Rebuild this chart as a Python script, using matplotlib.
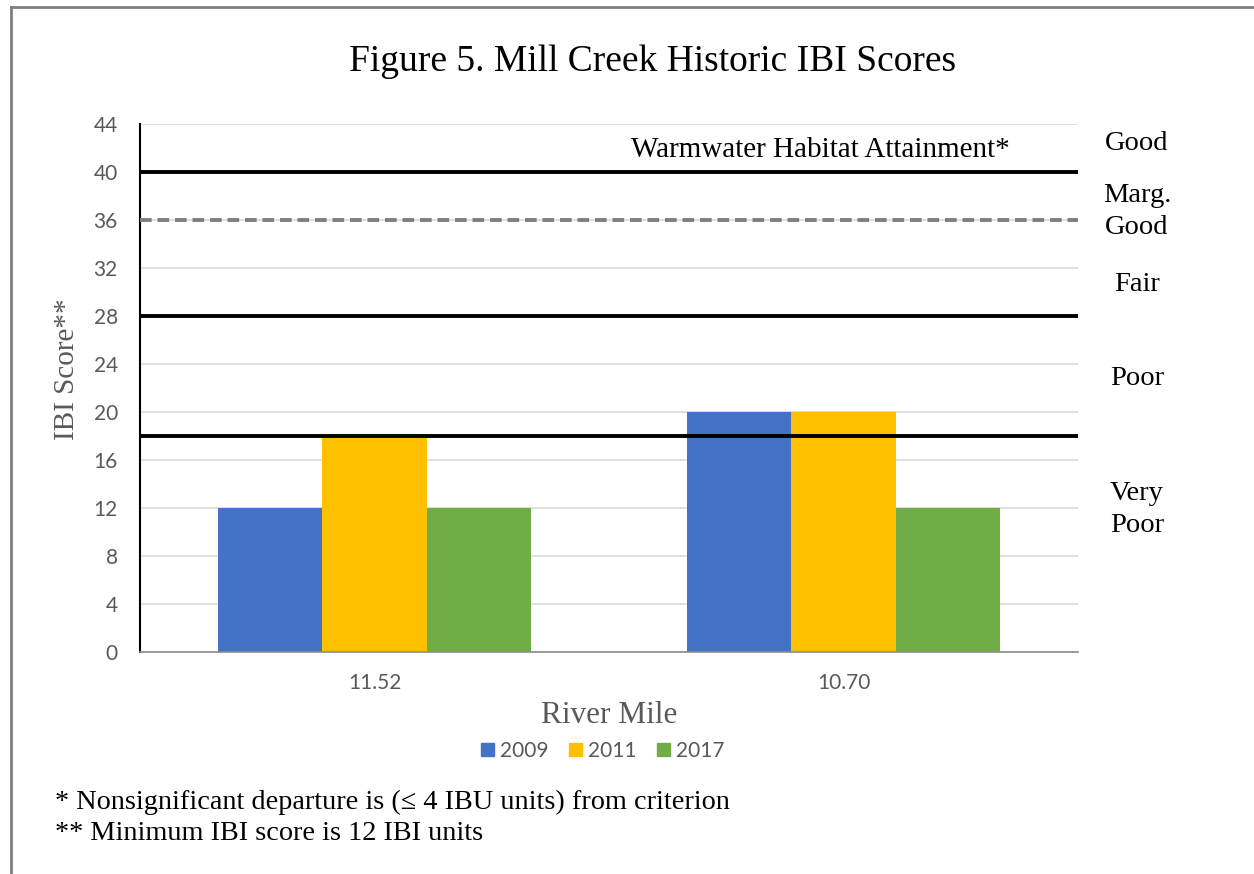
import numpy as np
import matplotlib.pyplot as plt
from matplotlib.lines import Line2D

# data
river_miles = ["11.52", "10.70"]
years = ["2009", "2011", "2017"]
scores_2009 = [12, 20]
scores_2011 = [18, 20]
scores_2017 = [12, 12]
colors = ["#4472C4", "#FFC000", "#70AD47"]

# narrative criteria lines
solid_lines = [40, 28, 18]
dashed_line = 36
class_labels = [("Good", 42.4), ("Marg.\nGood", 36.7), ("Fair", 30.6), ("Poor", 22.8), ("Very\nPoor", 11.9)]

serif = "Liberation Serif"
sans = "Lato"
gray_txt = "#595959"

fig = plt.figure(figsize=(12.54, 8.74), dpi=100)
ax = fig.add_axes([140 / 1254, 1 - 652 / 874, 938 / 1254, 528 / 874])

x = np.arange(len(river_miles))
w = 0.222
series = [scores_2009, scores_2011, scores_2017]
for i, (vals, c, yr) in enumerate(zip(series, colors, years)):
    ax.bar(x + (i - 1) * w, vals, width=w, color=c, label=yr, zorder=2)

ax.set_xlim(-0.5, 1.5)
ax.set_ylim(0, 44)
ax.set_yticks(np.arange(0, 45, 4))
ax.set_xticks(x)
ax.set_xticklabels(river_miles)
ax.tick_params(length=0, labelsize=15, labelcolor=gray_txt)
for lab in ax.get_xticklabels() + ax.get_yticklabels():
    lab.set_fontfamily(sans)
ax.tick_params(axis="y", pad=16)
ax.tick_params(axis="x", pad=15)
ax.grid(axis="y", color="#D9D9D9", linewidth=1.2, zorder=0)
ax.set_axisbelow(True)

for s in ["top", "right"]:
    ax.spines[s].set_visible(False)
ax.spines["left"].set_color("black")
ax.spines["left"].set_linewidth(1.5)
ax.spines["bottom"].set_color("#8C8C8C")
ax.spines["bottom"].set_linewidth(1.2)

for yv in solid_lines:
    ax.axhline(yv, color="black", linewidth=2.8, zorder=3)
ax.axhline(dashed_line, color="#7F7F7F", linewidth=2.8, linestyle=(0, (3, 1.5)), zorder=3)

ax.text(0.95, 41.8, "Warmwater Habitat Attainment*", fontsize=21, family=serif,
        ha="center", va="center")
for txt, yv in class_labels:
    ax.text(1.626, yv, txt, fontsize=20.5, family=serif, ha="center", va="center",
            linespacing=1.35, clip_on=False)

ax.set_ylabel("IBI Score**", fontsize=21, family=serif, color=gray_txt)
ax.yaxis.set_label_coords(-0.064, 0.535)
ax.set_xlabel("River Mile", fontsize=22.5, family=serif, color=gray_txt, labelpad=6)

fig.text(653 / 1254, 1 - 62 / 874, "Figure 5. Mill Creek Historic IBI Scores",
         fontsize=27, family=serif, ha="center", va="center")

handles = [plt.Rectangle((0, 0), 1, 1, color=c) for c in colors]
fig.legend(handles, years, loc="center", bbox_to_anchor=(603 / 1254, 1 - 751 / 874),
           ncol=3, frameon=False, prop={"family": sans, "size": 15},
           handlelength=0.6, handleheight=0.6, handletextpad=0.3, columnspacing=1.0,
           labelcolor=gray_txt)

fig.text(55 / 1254, 1 - 802 / 874, "* Nonsignificant departure is (\u2264 4 IBU units) from criterion",
         fontsize=20.3, family=serif, ha="left", va="center")
fig.text(55 / 1254, 1 - 834 / 874, "** Minimum IBI score is 12 IBI units",
         fontsize=20.3, family=serif, ha="left", va="center")

# outer frame of the figure
fig.add_artist(Line2D([11 / 1254, 11 / 1254], [0, 1 - 7 / 874], color="#7F7F7F",
                      linewidth=2, transform=fig.transFigure))
fig.add_artist(Line2D([11 / 1254, 1253 / 1254], [1 - 7 / 874, 1 - 7 / 874], color="#7F7F7F",
                      linewidth=2, transform=fig.transFigure))

fig.savefig("out.png", dpi=100)
